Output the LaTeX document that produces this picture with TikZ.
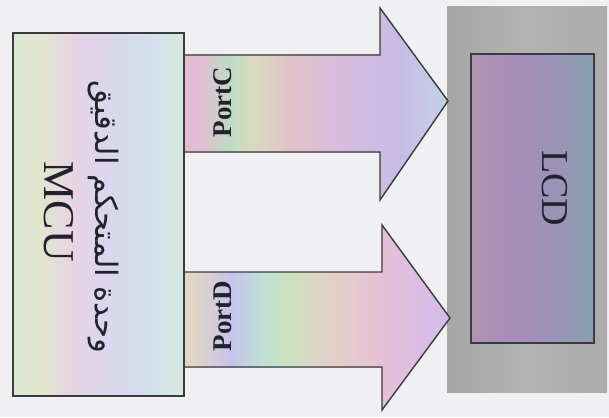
\documentclass[tikz,border=0pt]{standalone}
\usepackage{fontspec}
\usepackage{graphicx}
\setmainfont{Liberation Serif}
\newfontfamily\arabicfont[Script=Arabic]{DejaVu Sans}
\TeXXeTstate=1
\definecolor{bgc}{HTML}{F0EFF1}
\definecolor{edge}{HTML}{3A3A40}
\definecolor{ink}{HTML}{22222E}
\definecolor{m1}{HTML}{D8EAD2}
\definecolor{m2}{HTML}{E2E6CC}
\definecolor{m3}{HTML}{E8D4E4}
\definecolor{m4}{HTML}{DCD6EC}
\definecolor{m5}{HTML}{D4DDEE}
\definecolor{m6}{HTML}{D2EADF}
\definecolor{c1}{HTML}{E2BCD4}
\definecolor{c2}{HTML}{BEDCC2}
\definecolor{c3}{HTML}{D8DCBC}
\definecolor{c4}{HTML}{E2C2C8}
\definecolor{c5}{HTML}{D8BCDC}
\definecolor{c6}{HTML}{C6BCE6}
\definecolor{c7}{HTML}{C4D2E6}
\definecolor{d1}{HTML}{E0D6C4}
\definecolor{d2}{HTML}{C6C4EC}
\definecolor{d3}{HTML}{C0E0D4}
\definecolor{d4}{HTML}{CCE2BE}
\definecolor{d5}{HTML}{E4D0C8}
\definecolor{d6}{HTML}{E6C0D6}
\definecolor{d7}{HTML}{D6BCE8}
\definecolor{l1}{HTML}{B094B0}
\definecolor{l2}{HTML}{A88CB8}
\definecolor{l3}{HTML}{9C92B8}
\definecolor{l4}{HTML}{86A2AE}
\pgfdeclarehorizontalshading{mcushade}{100bp}{color(0bp)=(m1); color(25bp)=(m1); color(33bp)=(m2); color(42bp)=(m3); color(52bp)=(m4); color(62bp)=(m5); color(75bp)=(m6); color(100bp)=(m6)}
\pgfdeclarehorizontalshading{portcshade}{100bp}{color(0bp)=(c1); color(28bp)=(c1); color(34bp)=(c2); color(38bp)=(c3); color(45bp)=(c4); color(54bp)=(c5); color(66bp)=(c6); color(75bp)=(c7); color(100bp)=(c7)}
\pgfdeclarehorizontalshading{portdshade}{100bp}{color(0bp)=(d1); color(27bp)=(d1); color(34bp)=(d2); color(40bp)=(d3); color(45bp)=(d4); color(53bp)=(d5); color(62bp)=(d6); color(72bp)=(d7); color(100bp)=(d7)}
\pgfdeclarehorizontalshading{lcdouter}{100bp}{color(0bp)=(black!35); color(25bp)=(black!35); color(50bp)=(black!30); color(75bp)=(black!33); color(100bp)=(black!33)}
\pgfdeclarehorizontalshading{lcdinner}{100bp}{color(0bp)=(l1); color(25bp)=(l1); color(42bp)=(l2); color(58bp)=(l3); color(75bp)=(l4); color(100bp)=(l4)}
\begin{document}
\begin{tikzpicture}[x=1pt,y=-1pt,
  boxline/.style={draw=edge,line width=1.6pt},
  lbl/.style={text=ink,inner sep=0pt},
  portlbl/.style={lbl,font=\fontsize{27}{27}\selectfont\bfseries,rotate=90}]
\fill[bgc] (0,0) rectangle (609,417);
\useasboundingbox (0,0) rectangle (609,417);
% LCD
\shade[shading=lcdouter] (447,7) rectangle (607,392);
\node[boxline,shading=lcdinner,minimum width=123pt,minimum height=289pt,inner sep=0pt,anchor=north west] (lcd) at (470,53) {};
\node[lbl,font=\fontsize{38}{38}\selectfont,rotate=-90] (lcdt) at (555,188) {LCD};
% arrows
\coordinate (ctip) at (448,101);
\coordinate (dtip) at (450,318);
\fill[shading=portcshade] (183,55) -- (380,55) -- (380,8) -- (ctip) -- (380,200) -- (380,152) -- (183,152) -- cycle;
\draw[edge,line width=1.4pt,line join=miter] (183,55) -- (380,55) -- (380,8) -- (ctip) -- (380,200) -- (380,152) -- (183,152);
\fill[shading=portdshade] (183,272) -- (382,272) -- (382,225) -- (dtip) -- (382,410) -- (382,367) -- (183,367) -- cycle;
\draw[edge,line width=1.4pt,line join=miter] (183,272) -- (382,272) -- (382,225) -- (dtip) -- (382,410) -- (382,367) -- (183,367);
\node[portlbl] (pc) at (223,102) {PortC};
\node[portlbl] (pd) at (223,316) {PortD};
% MCU
\node[boxline,shading=mcushade,minimum width=171pt,minimum height=363pt,inner sep=0pt,anchor=north west] (mcu) at (12,32) {};
\node[lbl,rotate=-90] (ar) at (103,217) {\resizebox{272pt}{!}{\arabicfont\beginR وحدة المتحكم الدقيق\endR}};
\node[lbl,font=\fontsize{44}{44}\selectfont,rotate=-90] (mcut) at (59,212) {MCU};
\end{tikzpicture}
\end{document}
